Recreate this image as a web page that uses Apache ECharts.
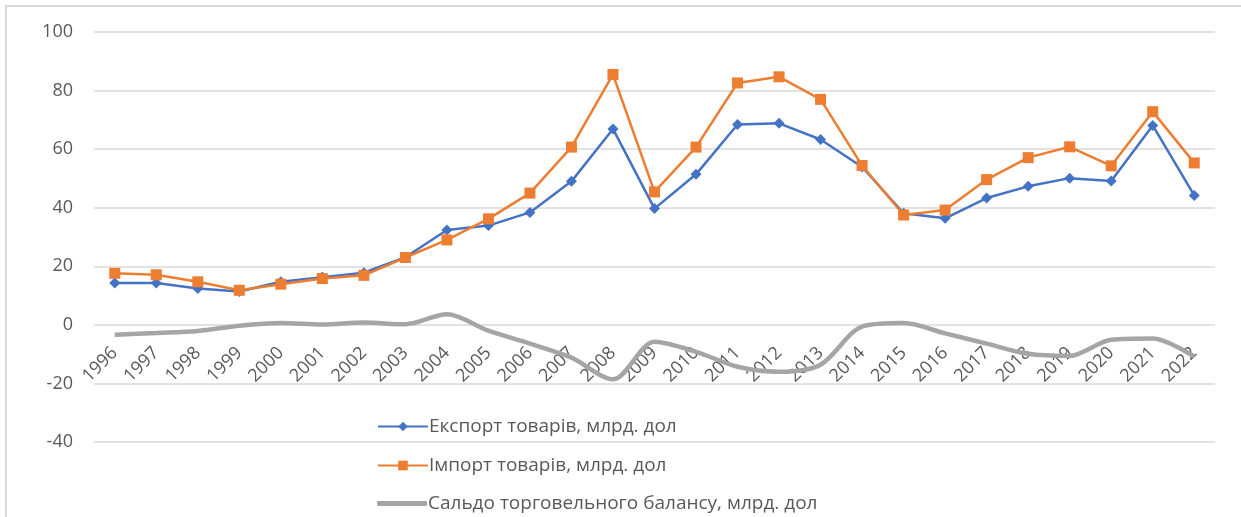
<!DOCTYPE html>
<html>
<head>
<meta charset="utf-8">
<script src="https://cdn.jsdelivr.net/npm/echarts@6/dist/echarts.min.js"></script>
<style>
  * { margin: 0; padding: 0; }
  body { background: #fff; }
  #frame { position: absolute; left: 5px; top: 5px; width: 1260px; height: 540px; border: 2px solid #d9d9d9; box-sizing: border-box; }
  #main { position: absolute; left: 0; top: 0; width: 1241px; height: 517px; }
</style>
</head>
<body>
<div id="frame"></div>
<div id="main"></div>
<script>
// роки
var years = ['1996', '1997', '1998', '1999', '2000', '2001', '2002', '2003', '2004', '2005',
  '2006', '2007', '2008', '2009', '2010', '2011', '2012', '2013', '2014', '2015',
  '2016', '2017', '2018', '2019', '2020', '2021', '2022'];

// експорт товарів, млрд. дол
var exportData = [14.3, 14.3, 12.4, 11.4, 14.7, 16.3, 17.8, 23.1, 32.4, 33.9,
  38.4, 49.0, 66.9, 39.7, 51.4, 68.4, 68.8, 63.3, 53.9, 38.1,
  36.4, 43.3, 47.3, 50.1, 49.1, 68.1, 44.2];

// імпорт товарів, млрд. дол
var importData = [17.6, 17.1, 14.7, 11.8, 13.9, 15.8, 16.9, 23.0, 29.0, 36.2,
  45.0, 60.7, 85.5, 45.4, 60.7, 82.6, 84.7, 77.0, 54.4, 37.5,
  39.2, 49.6, 57.1, 60.8, 54.3, 72.8, 55.3];

// сальдо торговельного балансу, млрд. дол
var balanceData = [-3.4, -2.8, -2.1, -0.3, 0.6, 0.1, 0.8, 0.2, 3.6, -2.0,
  -6.4, -11.2, -18.6, -5.8, -9.2, -14.3, -16.0, -13.6, -0.6, 0.6,
  -2.9, -6.4, -9.9, -10.6, -5.1, -4.7, -10.8];

var yTicks = [-40, -20, 0, 20, 40, 60, 80, 100];

var names = ['Експорт товарів, млрд. дол', 'Імпорт товарів, млрд. дол', 'Сальдо торговельного балансу, млрд. дол'];
var colors = ['#4472C4', '#ED7D31', '#A5A5A5'];

var textColor = '#595959';
var font = 'Open Sans';

// окрема легенда для кожного ряду, щоб стояли одна під одною
function legendItem(i, top, h, icon) {
  var item = { name: names[i] };
  if (icon) item.icon = icon;
  return {
    orient: 'vertical',
    left: 372,
    top: top,
    itemWidth: 50,
    itemHeight: h,
    itemGap: 0,
    textStyle: { fontSize: 19, color: textColor, fontFamily: font, padding: [0, 0, 0, -4] },
    data: [item]
  };
}

var chart = echarts.init(document.getElementById('main'));
chart.setOption({
  animation: false,
  backgroundColor: 'transparent',
  textStyle: { fontFamily: font },
  grid: { left: 94, right: 26, top: 32, bottom: 75, containLabel: false },
  legend: [
    legendItem(0, 412, 12),
    legendItem(1, 451, 12),
    legendItem(2, 489, 5, 'roundRect')
  ],
  xAxis: {
    type: 'category',
    data: years,
    boundaryGap: true,
    axisLine: { show: false },
    axisTick: { show: false },
    // підписи стоять біля нуля, як в Excel
    axisLabel: { rotate: 45, fontSize: 18, color: textColor, margin: -92, interval: 0 },
    splitLine: { show: false }
  },
  yAxis: {
    type: 'value',
    min: yTicks[0],
    max: yTicks[yTicks.length - 1],
    interval: 20,
    axisLine: { show: false },
    axisTick: { show: false },
    axisLabel: { fontSize: 18, color: textColor, margin: 21 },
    splitLine: { lineStyle: { color: '#d9d9d9', width: 1.5 } }
  },
  series: [
    {
      name: names[0],
      type: 'line',
      data: exportData,
      symbol: 'diamond',
      symbolSize: 11,
      lineStyle: { color: colors[0], width: 2.5 },
      itemStyle: { color: colors[0] },
      z: 3
    },
    {
      name: names[1],
      type: 'line',
      data: importData,
      symbol: 'rect',
      symbolSize: 11,
      lineStyle: { color: colors[1], width: 2.5 },
      itemStyle: { color: colors[1] },
      z: 4
    },
    {
      name: names[2],
      type: 'line',
      data: balanceData,
      symbol: 'none',
      smooth: 0.3,
      lineStyle: { color: colors[2], width: 4.5 },
      itemStyle: { color: colors[2] },
      z: 2
    }
  ]
});
</script>
</body>
</html>
